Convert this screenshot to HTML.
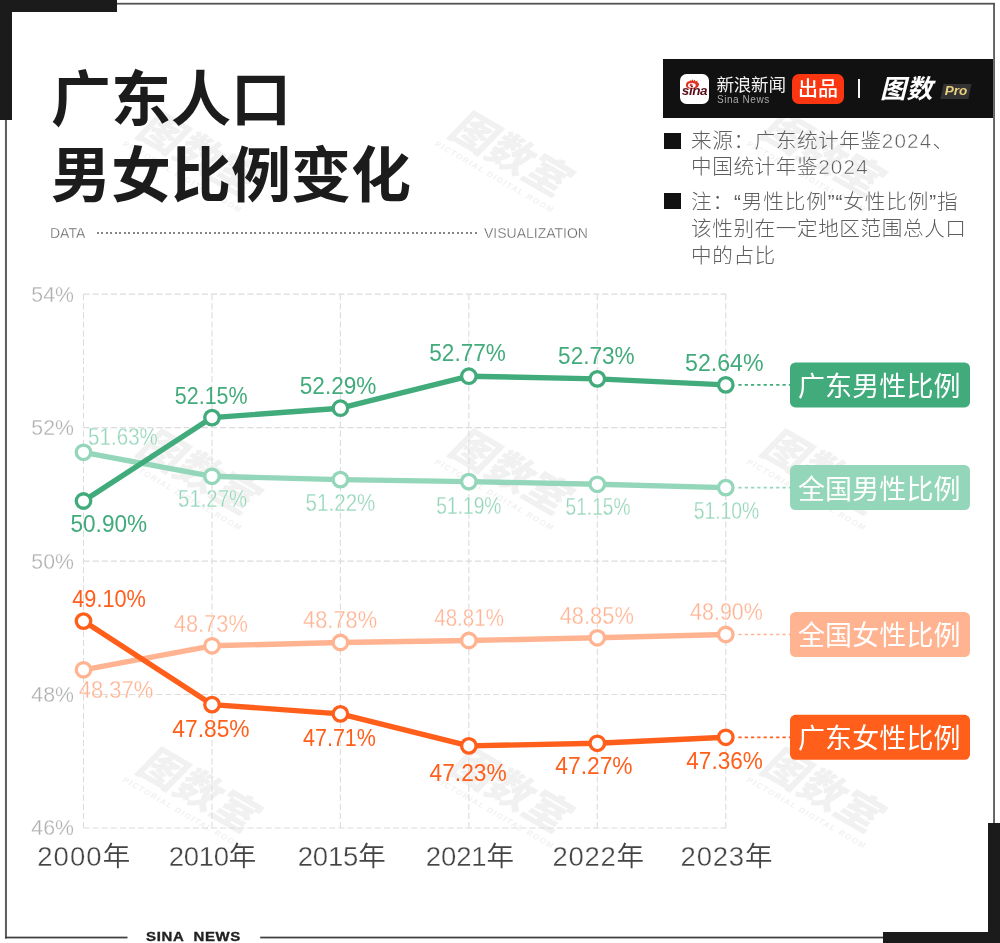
<!DOCTYPE html>
<html lang="zh-CN">
<head>
<meta charset="utf-8">
<title>广东人口男女比例变化</title>
<style>
*{margin:0;padding:0;box-sizing:border-box}
html,body{width:1000px;height:943px;background:#fff;overflow:hidden}
body{font-family:"Liberation Sans","Noto Sans CJK SC",sans-serif;color:#1c1c1c}
#page{position:relative;width:1000px;height:943px;background:#fff;overflow:hidden}
.abs{position:absolute}
/* frame */
.ln{position:absolute;background:#4a4a4a}
.blk{position:absolute;background:#1b1b1b}
/* title */
.title{position:absolute;left:51px;font-family:"Liberation Sans","Noto Sans CJK SC",sans-serif;font-weight:700;font-size:60px;line-height:60px;letter-spacing:0;color:#1c1c1c;white-space:nowrap}
.sub{position:absolute;top:225px;height:16px;line-height:16px;font-size:14px;color:#606060;white-space:nowrap;-webkit-text-stroke:0.3px #fff}
.dots{position:absolute;left:97.4px;top:232.1px;width:380px;height:1.8px;background:repeating-linear-gradient(90deg,#858585 0,#858585 1.7px,transparent 1.7px,transparent 4.5px)}
/* banner */
.banner{position:absolute;left:663px;top:59px;width:330.2px;height:59px;background:#111}
.sinaicon{position:absolute;left:17px;top:15px;width:29px;height:29.5px;border-radius:6.5px;background:#fff;overflow:hidden}
.sinaicon span{position:absolute;left:0.5px;top:10.2px;width:28px;text-align:center;font-size:13.5px;line-height:13px;font-weight:700;font-style:italic;color:#5a0f1a;letter-spacing:-0.4px}
.bn1{position:absolute;left:53.5px;top:14.5px;font-size:17.6px;line-height:22px;color:#f2f2f2;font-weight:400;white-space:nowrap;letter-spacing:-0.3px}
.bn2{position:absolute;left:54px;top:34.5px;font-size:10px;line-height:12px;color:#a8a8a8;white-space:nowrap;letter-spacing:0.55px}
.badge{position:absolute;left:129.3px;top:15px;width:51.6px;height:29.6px;border-radius:7px;background:#fb3611;color:#fff;font-weight:500;font-size:20px;line-height:31.6px;text-align:center;white-space:nowrap}
.sep{position:absolute;left:195.4px;top:20.3px;width:2px;height:18.8px;background:#f4f4f4}
.tushu{position:absolute;left:217px;top:14px;font-size:26px;line-height:32px;font-weight:700;font-style:italic;color:#fff;white-space:nowrap;letter-spacing:0.5px}
.pro{position:absolute;left:279px;top:25px;width:28px;height:14.5px;background:#333;transform:skewX(-12deg)}
.protx{position:absolute;left:279px;top:25px;width:28px;height:14.5px;line-height:14.5px;text-align:center;font-size:13.5px;font-weight:700;font-style:italic;color:#ead07e}
/* notes */
.bul{position:absolute;left:663.5px;width:17px;height:16.5px;background:#111}
.note{position:absolute;left:691px;font-size:20.6px;line-height:27.4px;color:#5e5e5e;font-weight:300;white-space:nowrap;letter-spacing:0.6px}
.note i{font-style:normal;letter-spacing:1.2px;-webkit-text-stroke:0.45px #fff}
.note b{font-weight:300;letter-spacing:0.9px}
/* footer */
.sina{position:absolute;left:146.3px;top:928.6px;font-size:13.4px;line-height:16px;font-weight:700;color:#222;white-space:pre;letter-spacing:0.6px;transform:scaleX(1.115);transform-origin:0 0;-webkit-text-stroke:0.35px #222}
/* chart */
svg.chart{position:absolute;left:0;top:0}
svg text{font-family:"Liberation Sans","Noto Sans CJK SC",sans-serif}
.grid line{stroke:#dcdcdc;stroke-width:1.1;stroke-dasharray:6.2 2.9}
.ylab text{font-size:21.8px;fill:#b0b0b0;stroke:#fff;stroke-width:0.3px}
.xlab text{font-size:27.5px;fill:#444;font-weight:300;stroke:#fff;stroke-width:0.35px}
.xlab .nian{font-weight:350;stroke:none}
.dl{font-size:23.2px}
.s-nm .dl,.s-nf .dl{font-weight:300;stroke:#fff;stroke-width:0.3px}
.lead{stroke-width:1.7;stroke-dasharray:3.2 3.1}
.lg{font-size:27px;fill:#fff;font-weight:400;letter-spacing:0.1px}
.wm text{fill:#f1f1f1;font-style:italic}
.wm1{font-size:42px;font-weight:900}
.wm2{font-size:8px;font-weight:700;letter-spacing:1.5px;fill:#e9e9e9}
</style>
</head>
<body>
<div id="page">
<svg class="chart" width="1000" height="943" viewBox="0 0 1000 943">
<g class="wm">
<g transform="translate(197,160) rotate(30)"><text class="wm1" x="-4" y="9" text-anchor="middle">图数室</text><text class="wm2" x="-3.9" y="24.5" text-anchor="middle">PICTORIAL DIGITAL ROOM</text></g>
<g transform="translate(509,160) rotate(30)"><text class="wm1" x="-4" y="9" text-anchor="middle">图数室</text><text class="wm2" x="-3.9" y="24.5" text-anchor="middle">PICTORIAL DIGITAL ROOM</text></g>
<g transform="translate(821,160) rotate(30)"><text class="wm1" x="-4" y="9" text-anchor="middle">图数室</text><text class="wm2" x="-3.9" y="24.5" text-anchor="middle">PICTORIAL DIGITAL ROOM</text></g>
<g transform="translate(197,478) rotate(30)"><text class="wm1" x="-4" y="9" text-anchor="middle">图数室</text><text class="wm2" x="-3.9" y="24.5" text-anchor="middle">PICTORIAL DIGITAL ROOM</text></g>
<g transform="translate(509,478) rotate(30)"><text class="wm1" x="-4" y="9" text-anchor="middle">图数室</text><text class="wm2" x="-3.9" y="24.5" text-anchor="middle">PICTORIAL DIGITAL ROOM</text></g>
<g transform="translate(821,478) rotate(30)"><text class="wm1" x="-4" y="9" text-anchor="middle">图数室</text><text class="wm2" x="-3.9" y="24.5" text-anchor="middle">PICTORIAL DIGITAL ROOM</text></g>
<g transform="translate(197,796) rotate(30)"><text class="wm1" x="-4" y="9" text-anchor="middle">图数室</text><text class="wm2" x="-3.9" y="24.5" text-anchor="middle">PICTORIAL DIGITAL ROOM</text></g>
<g transform="translate(509,796) rotate(30)"><text class="wm1" x="-4" y="9" text-anchor="middle">图数室</text><text class="wm2" x="-3.9" y="24.5" text-anchor="middle">PICTORIAL DIGITAL ROOM</text></g>
<g transform="translate(821,796) rotate(30)"><text class="wm1" x="-4" y="9" text-anchor="middle">图数室</text><text class="wm2" x="-3.9" y="24.5" text-anchor="middle">PICTORIAL DIGITAL ROOM</text></g>
</g>
<g class="grid">
<line x1="83.5" x2="725.8" y1="294.1" y2="294.1"/>
<line x1="83.5" x2="725.8" y1="427.6" y2="427.6"/>
<line x1="83.5" x2="725.8" y1="561.1" y2="561.1"/>
<line x1="83.5" x2="725.8" y1="694.5" y2="694.5"/>
<line x1="83.5" x2="725.8" y1="828.0" y2="828.0"/>
<line x1="83.5" x2="83.5" y1="294.1" y2="828.0"/>
<line x1="212" x2="212" y1="294.1" y2="828.0"/>
<line x1="340.4" x2="340.4" y1="294.1" y2="828.0"/>
<line x1="468.85" x2="468.85" y1="294.1" y2="828.0"/>
<line x1="597.3" x2="597.3" y1="294.1" y2="828.0"/>
<line x1="725.8" x2="725.8" y1="294.1" y2="828.0"/>
</g>
<g class="ylab">
<text x="31.3" y="301.5" textLength="42.6" lengthAdjust="spacingAndGlyphs">54%</text>
<text x="31.3" y="435.0" textLength="42.6" lengthAdjust="spacingAndGlyphs">52%</text>
<text x="31.3" y="568.5" textLength="42.6" lengthAdjust="spacingAndGlyphs">50%</text>
<text x="31.3" y="701.9" textLength="42.6" lengthAdjust="spacingAndGlyphs">48%</text>
<text x="31.3" y="835.4" textLength="42.6" lengthAdjust="spacingAndGlyphs">46%</text>
</g>
<g class="xlab">
<text x="83.7" y="866.2" text-anchor="middle" textLength="93.1">2000<tspan class="nian">年</tspan></text>
<text x="212.5" y="866.2" text-anchor="middle" textLength="87.6">2010<tspan class="nian">年</tspan></text>
<text x="341.7" y="866.2" text-anchor="middle" textLength="88.0">2015<tspan class="nian">年</tspan></text>
<text x="469.9" y="866.2" text-anchor="middle" textLength="88.3">2021<tspan class="nian">年</tspan></text>
<text x="598.2" y="866.2" text-anchor="middle" textLength="91.6">2022<tspan class="nian">年</tspan></text>
<text x="726.5" y="866.2" text-anchor="middle" textLength="91.9">2023<tspan class="nian">年</tspan></text>
</g>
<g class="s-nm">
<line class="lead" x1="738.4" x2="790" y1="487.6" y2="487.6" stroke="#94d6b9"/>
<polyline points="83.5,452.3 212,476.3 340.4,479.6 468.85,481.6 597.3,484.3 725.8,487.6" fill="none" stroke="#94d6b9" stroke-width="5.4" stroke-linejoin="round"/>
<circle cx="83.5" cy="452.3" r="7.25" fill="#fff" stroke="#94d6b9" stroke-width="3.3"/>
<circle cx="212" cy="476.3" r="7.25" fill="#fff" stroke="#94d6b9" stroke-width="3.3"/>
<circle cx="340.4" cy="479.6" r="7.25" fill="#fff" stroke="#94d6b9" stroke-width="3.3"/>
<circle cx="468.85" cy="481.6" r="7.25" fill="#fff" stroke="#94d6b9" stroke-width="3.3"/>
<circle cx="597.3" cy="484.3" r="7.25" fill="#fff" stroke="#94d6b9" stroke-width="3.3"/>
<circle cx="725.8" cy="487.6" r="7.25" fill="#fff" stroke="#94d6b9" stroke-width="3.3"/>
<text class="dl" x="123.0" y="445" text-anchor="middle" textLength="69.8" lengthAdjust="spacingAndGlyphs" fill="#94d6b9">51.63%</text>
<text class="dl" x="212.6" y="507" text-anchor="middle" textLength="69.1" lengthAdjust="spacingAndGlyphs" fill="#94d6b9">51.27%</text>
<text class="dl" x="340.5" y="510.5" text-anchor="middle" textLength="69.8" lengthAdjust="spacingAndGlyphs" fill="#94d6b9">51.22%</text>
<text class="dl" x="468.9" y="513.75" text-anchor="middle" textLength="65.1" lengthAdjust="spacingAndGlyphs" fill="#94d6b9">51.19%</text>
<text class="dl" x="598.0" y="515" text-anchor="middle" textLength="64.8" lengthAdjust="spacingAndGlyphs" fill="#94d6b9">51.15%</text>
<text class="dl" x="726.5" y="519" text-anchor="middle" textLength="65.6" lengthAdjust="spacingAndGlyphs" fill="#94d6b9">51.10%</text>
<rect x="790" y="465.1" width="180" height="45" rx="5.5" fill="#94d6b9"/>
<text class="lg" x="879.3" y="498.5" text-anchor="middle">全国男性比例</text>
</g>
<g class="s-gm">
<line class="lead" x1="738.4" x2="790" y1="384.9" y2="384.9" stroke="#42ab7c"/>
<polyline points="83.5,501.0 212,417.6 340.4,408.2 468.85,376.2 597.3,378.9 725.8,384.9" fill="none" stroke="#42ab7c" stroke-width="5.4" stroke-linejoin="round"/>
<circle cx="83.5" cy="501.0" r="7.25" fill="#fff" stroke="#42ab7c" stroke-width="3.3"/>
<circle cx="212" cy="417.6" r="7.25" fill="#fff" stroke="#42ab7c" stroke-width="3.3"/>
<circle cx="340.4" cy="408.2" r="7.25" fill="#fff" stroke="#42ab7c" stroke-width="3.3"/>
<circle cx="468.85" cy="376.2" r="7.25" fill="#fff" stroke="#42ab7c" stroke-width="3.3"/>
<circle cx="597.3" cy="378.9" r="7.25" fill="#fff" stroke="#42ab7c" stroke-width="3.3"/>
<circle cx="725.8" cy="384.9" r="7.25" fill="#fff" stroke="#42ab7c" stroke-width="3.3"/>
<text class="dl" x="108.8" y="532" text-anchor="middle" textLength="76.6" lengthAdjust="spacingAndGlyphs" fill="#42ab7c">50.90%</text>
<text class="dl" x="211.2" y="403.5" text-anchor="middle" textLength="72.8" lengthAdjust="spacingAndGlyphs" fill="#42ab7c">52.15%</text>
<text class="dl" x="338.1" y="393.75" text-anchor="middle" textLength="76.6" lengthAdjust="spacingAndGlyphs" fill="#42ab7c">52.29%</text>
<text class="dl" x="467.6" y="360.75" text-anchor="middle" textLength="76.6" lengthAdjust="spacingAndGlyphs" fill="#42ab7c">52.77%</text>
<text class="dl" x="596.4" y="363.75" text-anchor="middle" textLength="76.6" lengthAdjust="spacingAndGlyphs" fill="#42ab7c">52.73%</text>
<text class="dl" x="724.3" y="371.4" text-anchor="middle" textLength="78.4" lengthAdjust="spacingAndGlyphs" fill="#42ab7c">52.64%</text>
<rect x="790" y="362.4" width="180" height="45" rx="5.5" fill="#42ab7c"/>
<text class="lg" x="879.3" y="395.8" text-anchor="middle">广东男性比例</text>
</g>
<g class="s-nf">
<line class="lead" x1="738.4" x2="790" y1="634.5" y2="634.5" stroke="#ffb391"/>
<polyline points="83.5,669.8 212,645.8 340.4,642.5 468.85,640.5 597.3,637.8 725.8,634.5" fill="none" stroke="#ffb391" stroke-width="5.4" stroke-linejoin="round"/>
<circle cx="83.5" cy="669.8" r="7.25" fill="#fff" stroke="#ffb391" stroke-width="3.3"/>
<circle cx="212" cy="645.8" r="7.25" fill="#fff" stroke="#ffb391" stroke-width="3.3"/>
<circle cx="340.4" cy="642.5" r="7.25" fill="#fff" stroke="#ffb391" stroke-width="3.3"/>
<circle cx="468.85" cy="640.5" r="7.25" fill="#fff" stroke="#ffb391" stroke-width="3.3"/>
<circle cx="597.3" cy="637.8" r="7.25" fill="#fff" stroke="#ffb391" stroke-width="3.3"/>
<circle cx="725.8" cy="634.5" r="7.25" fill="#fff" stroke="#ffb391" stroke-width="3.3"/>
<text class="dl" x="116.1" y="698.4" text-anchor="middle" textLength="74.6" lengthAdjust="spacingAndGlyphs" fill="#ffb391">48.37%</text>
<text class="dl" x="210.8" y="632" text-anchor="middle" textLength="74.1" lengthAdjust="spacingAndGlyphs" fill="#ffb391">48.73%</text>
<text class="dl" x="340.1" y="628" text-anchor="middle" textLength="74.1" lengthAdjust="spacingAndGlyphs" fill="#ffb391">48.78%</text>
<text class="dl" x="469.1" y="626.25" text-anchor="middle" textLength="69.6" lengthAdjust="spacingAndGlyphs" fill="#ffb391">48.81%</text>
<text class="dl" x="596.8" y="624.3" text-anchor="middle" textLength="74.2" lengthAdjust="spacingAndGlyphs" fill="#ffb391">48.85%</text>
<text class="dl" x="726.5" y="620.3" text-anchor="middle" textLength="72.9" lengthAdjust="spacingAndGlyphs" fill="#ffb391">48.90%</text>
<rect x="790" y="612.0" width="180" height="45" rx="5.5" fill="#ffb391"/>
<text class="lg" x="879.3" y="645.4" text-anchor="middle">全国女性比例</text>
</g>
<g class="s-gf">
<line class="lead" x1="738.4" x2="790" y1="737.3" y2="737.3" stroke="#ff5f1b"/>
<polyline points="83.5,621.1 212,704.6 340.4,713.9 468.85,745.9 597.3,743.3 725.8,737.3" fill="none" stroke="#ff5f1b" stroke-width="5.4" stroke-linejoin="round"/>
<circle cx="83.5" cy="621.1" r="7.25" fill="#fff" stroke="#ff5f1b" stroke-width="3.3"/>
<circle cx="212" cy="704.6" r="7.25" fill="#fff" stroke="#ff5f1b" stroke-width="3.3"/>
<circle cx="340.4" cy="713.9" r="7.25" fill="#fff" stroke="#ff5f1b" stroke-width="3.3"/>
<circle cx="468.85" cy="745.9" r="7.25" fill="#fff" stroke="#ff5f1b" stroke-width="3.3"/>
<circle cx="597.3" cy="743.3" r="7.25" fill="#fff" stroke="#ff5f1b" stroke-width="3.3"/>
<circle cx="725.8" cy="737.3" r="7.25" fill="#fff" stroke="#ff5f1b" stroke-width="3.3"/>
<text class="dl" x="109.1" y="607.3" text-anchor="middle" textLength="73.6" lengthAdjust="spacingAndGlyphs" fill="#ff5f1b">49.10%</text>
<text class="dl" x="211.0" y="737" text-anchor="middle" textLength="77.3" lengthAdjust="spacingAndGlyphs" fill="#ff5f1b">47.85%</text>
<text class="dl" x="339.5" y="746.25" text-anchor="middle" textLength="72.8" lengthAdjust="spacingAndGlyphs" fill="#ff5f1b">47.71%</text>
<text class="dl" x="468.1" y="780.9" text-anchor="middle" textLength="77.1" lengthAdjust="spacingAndGlyphs" fill="#ff5f1b">47.23%</text>
<text class="dl" x="594.0" y="774.4" text-anchor="middle" textLength="77.3" lengthAdjust="spacingAndGlyphs" fill="#ff5f1b">47.27%</text>
<text class="dl" x="724.6" y="769" text-anchor="middle" textLength="76.6" lengthAdjust="spacingAndGlyphs" fill="#ff5f1b">47.36%</text>
<rect x="790" y="714.8" width="180" height="45" rx="5.5" fill="#ff5f1b"/>
<text class="lg" x="879.3" y="748.2" text-anchor="middle">广东女性比例</text>
</g>
</svg>
<!-- frame -->
<svg class="abs" style="left:0;top:0" width="1000" height="943" viewBox="0 0 1000 943">
<rect x="4.95" y="3" width="2.05" height="935.5" fill="#606060"/>
<rect x="993.1" y="3" width="1.85" height="935.5" fill="#5c5c5c"/>
<rect x="5" y="2.8" width="990" height="1.8" fill="#545454"/>
<rect x="5" y="936.65" width="122.5" height="1.75" fill="#404040"/>
<rect x="260.2" y="936.65" width="734.8" height="1.75" fill="#404040"/>
</svg>
<div class="blk" style="left:0;top:0;width:117px;height:11.5px"></div>
<div class="blk" style="left:0;top:0;width:12px;height:120px"></div>
<div class="blk" style="left:988px;top:823px;width:12px;height:120px"></div>
<div class="blk" style="left:883px;top:931.5px;width:117px;height:11.5px"></div>
<div class="sina">SINA  NEWS</div>
<!-- title -->
<div class="title" style="top:70.5px">广东人口</div>
<div class="title" style="top:146.5px">男女比例变化</div>
<div class="sub" style="left:50px">DATA</div>
<div class="dots"></div>
<div class="sub" style="left:484px">VISUALIZATION</div>
<!-- banner -->
<div class="banner">
  <div class="sinaicon">
    <svg class="abs" style="left:5px;top:4.5px" width="15.4" height="11" viewBox="0 0 14 10"><path d="M1.2 7.2C0.2 4.6 2.2 1.6 4 2.2L4.6 0.8 5.6 2 6.6 0.2 7.6 1.8 9 0.6 9.6 2.2 11.4 1.4 11.2 3C13 3.4 13.4 6 11.4 7.6C9 9.4 3 9.6 1.2 7.2Z" fill="#e0301e"/><ellipse cx="6.2" cy="5.9" rx="3.5" ry="2.2" fill="#fff"/><circle cx="5.6" cy="5.6" r="1.3" fill="#d84a4a"/></svg>
    <span>sina</span>
  </div>
  <div class="bn1">新浪新闻</div>
  <div class="bn2">Sina News</div>
  <div class="badge">出品</div>
  <div class="sep"></div>
  <div class="tushu">图数</div>
  <div class="pro"></div><div class="protx">Pro</div>
</div>
<!-- notes -->
<div class="bul" style="top:132.5px"></div>
<div class="note" style="top:127.5px;line-height:26.2px">来源：广东统计年鉴<i>2024</i>、<br>中国统计年鉴<i>2024</i></div>
<div class="bul" style="top:192.5px"></div>
<div class="note" style="top:187.5px"><b>注：“男性比例”“女性比例”指</b><br>该性别在一定地区范围总人口<br>中的占比</div>
</div>
</body>
</html>
